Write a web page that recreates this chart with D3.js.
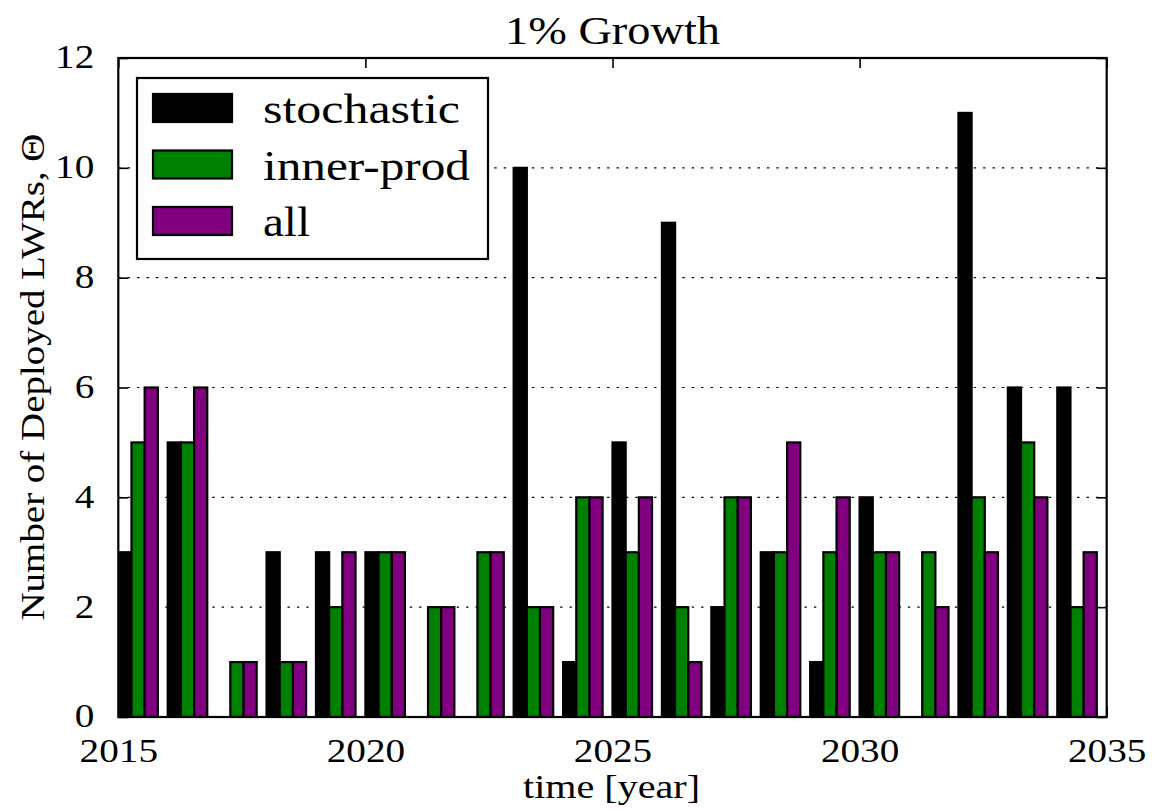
<!DOCTYPE html>
<html>
<head>
<meta charset="utf-8">
<script src="https://cdn.jsdelivr.net/npm/d3@7"></script>
<style>
  html, body { margin: 0; padding: 0; background: #fff; }
  svg { display: block; }
  svg text { font-family: "Liberation Serif", "Times New Roman", serif; fill: #000; }
</style>
</head>
<body>
<svg id="chart" width="1153" height="809"></svg>
<script>
// ---- data ----
const years = [2015, 2016, 2017, 2018, 2019, 2020, 2021, 2022, 2023, 2024,
               2025, 2026, 2027, 2028, 2029, 2030, 2031, 2032, 2033, 2034];
const stochastic = [3, 5, 0, 3, 3, 3, 0, 0, 10, 1, 5, 9, 2, 3, 1, 4, 0, 11, 6, 6];
const innerProd  = [5, 5, 1, 1, 2, 3, 2, 3, 2, 4, 3, 2, 4, 3, 3, 3, 3, 4, 5, 2];
const allSeries  = [6, 6, 1, 1, 3, 3, 2, 3, 2, 4, 4, 1, 4, 5, 4, 3, 2, 3, 4, 3];
const seriesNames = ["stochastic", "inner-prod", "all"];
const seriesColors = ["#000000", "#008000", "#800080"];
const xTicks = [2015, 2020, 2025, 2030, 2035];
const yTicks = [0, 2, 4, 6, 8, 10, 12];
const titleText = "1% Growth";
const xLabel = "time [year]";
const yLabel = "Number of Deployed LWRs, \u0398";

// ---- layout ----
const L = 118.3, R = 1106.7, T = 58, B = 717;
const barW = 0.8 / 3;
const FONT = "Liberation Serif, 'DejaVu Serif', serif";
const svg = d3.select("#chart");

const x = d3.scaleLinear().domain([2015, 2035]).range([L, R]);
const y = d3.scaleLinear().domain([0, 12]).range([B, T]);

function fit(sel, w) {
  sel.attr("textLength", w).attr("lengthAdjust", "spacingAndGlyphs");
}

// grid (horizontal dotted)
svg.append("g").selectAll("line")
  .data(yTicks.filter(d => d > 0 && d < 12))
  .join("line")
  .attr("x1", L).attr("x2", R)
  .attr("y1", d => y(d)).attr("y2", d => y(d))
  .attr("stroke", "#000").attr("stroke-width", 1.2)
  .attr("stroke-dasharray", "2.4,7");

// bars
svg.append("clipPath").attr("id", "plotclip")
  .append("rect").attr("x", L).attr("y", T).attr("width", R - L).attr("height", B - T);

const all = [stochastic, innerProd, allSeries];
const barsG = svg.append("g").attr("clip-path", "url(#plotclip)");
all.forEach((vals, k) => {
  barsG.append("g").selectAll("rect")
    .data(years.map((yr, i) => ({ yr, v: vals[i] })))
    .join("rect")
    .attr("x", d => x(d.yr + k * barW))
    .attr("width", x(2015 + barW) - x(2015))
    .attr("y", d => y(d.v))
    .attr("height", d => y(0) - y(d.v))
    .attr("fill", seriesColors[k])
    .attr("stroke", "#000")
    .attr("stroke-width", 2.2);
});

// axes with inward ticks on all sides
const tickLen = 10;
const tickFont = 33;
const digitW = 19.6;
const axB = svg.append("g").attr("transform", `translate(0,${B})`)
  .call(d3.axisBottom(x).tickValues(xTicks).tickFormat(d3.format("d"))
        .tickSizeInner(-tickLen).tickSizeOuter(0).tickPadding(tickLen + 13));
const axT = svg.append("g").attr("transform", `translate(0,${T})`)
  .call(d3.axisTop(x).tickValues(xTicks).tickFormat("").tickSizeInner(-tickLen).tickSizeOuter(0));
const axL = svg.append("g").attr("transform", `translate(${L},0)`)
  .call(d3.axisLeft(y).tickValues(yTicks).tickFormat(d3.format("d"))
        .tickSizeInner(-tickLen).tickSizeOuter(0).tickPadding(tickLen + 14));
const axR = svg.append("g").attr("transform", `translate(${R},0)`)
  .call(d3.axisRight(y).tickValues(yTicks).tickFormat("").tickSizeInner(-tickLen).tickSizeOuter(0));

[axB, axT, axL, axR].forEach(a => {
  a.attr("font-family", FONT);
  a.select(".domain").remove();
  a.selectAll(".tick line").attr("stroke", "#000").attr("stroke-width", 1.6);
  a.selectAll("text").attr("font-family", FONT).attr("font-size", tickFont).attr("fill", "#000")
    .attr("textLength", d => String(d).length * digitW).attr("lengthAdjust", "spacingAndGlyphs");
});
axB.selectAll("text").attr("dy", "0.66em");
axL.selectAll("text").attr("dy", "0.30em");

// frame
svg.append("rect").attr("x", L).attr("y", T).attr("width", R - L).attr("height", B - T)
  .attr("fill", "none").attr("stroke", "#000").attr("stroke-width", 2.2);

// title and labels
svg.append("text").attr("x", 612.5).attr("y", 44).attr("font-family", FONT)
  .attr("text-anchor", "middle").attr("font-size", 41).text(titleText).call(fit, 215);
svg.append("text").attr("x", 611.5).attr("y", 798).attr("font-family", FONT)
  .attr("text-anchor", "middle").attr("font-size", 33).text(xLabel).call(fit, 177);
svg.append("text").attr("transform", `translate(44,377) rotate(-90)`).attr("font-family", FONT)
  .attr("text-anchor", "middle").attr("font-size", 33).text(yLabel).call(fit, 487);

// legend
const lg = svg.append("g");
lg.append("rect").attr("x", 137).attr("y", 78).attr("width", 351).attr("height", 181)
  .attr("fill", "#fff").attr("stroke", "#000").attr("stroke-width", 2.2);
const legendWidths = [197, 207, 47];
seriesNames.forEach((name, k) => {
  const cy = 108 + k * 56.5;
  lg.append("rect").attr("x", 153).attr("y", cy - 14).attr("width", 79).attr("height", 28)
    .attr("fill", seriesColors[k]).attr("stroke", "#000").attr("stroke-width", 2.2);
  lg.append("text").attr("x", 263).attr("y", cy + 15).attr("font-family", FONT)
    .attr("font-size", 42).text(name).call(fit, legendWidths[k]);
});
</script>
</body>
</html>
